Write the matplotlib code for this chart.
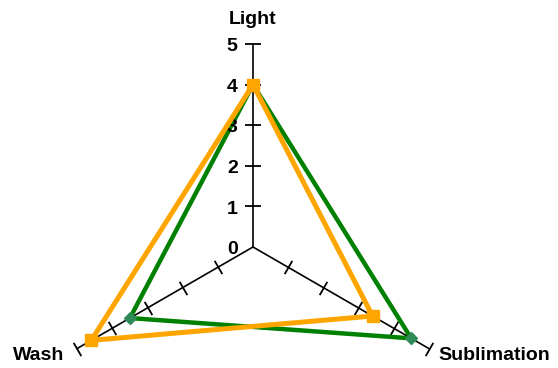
import numpy as np
import matplotlib
matplotlib.use("Agg")
import matplotlib.pyplot as plt

categories = ["Light", "Sublimation", "Wash"]
series_green = [4.0, 4.5, 3.5]
series_orange = [4.0, 3.4, 4.6]
tick_values = [0, 1, 2, 3, 4, 5]
tick_labels = ["0", "1", "2", "3", "4", "5"]

plt.rcParams['font.family'] = ['Liberation Sans', 'DejaVu Sans']

W, H = 558, 368
fig = plt.figure(figsize=(W / 100, H / 100), dpi=100)
cx, cy, R = 253, 247, 203
ax = fig.add_axes([(cx - R) / W, (H - cy - R) / H, 2 * R / W, 2 * R / H], projection='polar')
ax.set_theta_zero_location('N')
ax.set_theta_direction(-1)
ax.set_ylim(0, 5)
ax.grid(False)
ax.set_xticks([])
ax.set_yticks([])
ax.spines['polar'].set_visible(False)
ax.patch.set_visible(False)

n = len(categories)
angles = np.arange(n) * 2 * np.pi / n
rots = [90, -30, 30]

# axes lines and ticks
for a, rot in zip(angles, rots):
    ax.plot([a, a], [0, 5], color='black', lw=1.2, clip_on=False, zorder=1)
    ax.plot([a] * len(tick_values[1:]), tick_values[1:], linestyle='none',
            marker=(2, 0, rot), markersize=11, markeredgewidth=1.3, color='black',
            clip_on=False, zorder=1)

# series
def closed(v):
    return list(angles) + [angles[0]], list(v) + [v[0]]

t, r = closed(series_green)
ax.plot(t, r, color='#008000', lw=3.2, clip_on=False, zorder=3)
ax.plot(angles, series_green, linestyle='none', marker='D', markersize=6,
        color='#2E8B57', clip_on=False, zorder=4)
t, r = closed(series_orange)
ax.plot(t, r, color='#FFA500', lw=3.6, clip_on=False, zorder=5)
ax.plot(angles, series_orange, linestyle='none', marker='s', markersize=8,
        color='#FFA500', clip_on=False, zorder=6)

# tick labels
for v, lab in zip(tick_values, tick_labels):
    ax.annotate(lab, xy=(0, v), xytext=(-11, -2), textcoords='offset points',
                ha='right', va='center', fontsize=14, fontweight='bold',
                annotation_clip=False)

# category labels
fs = 14
ax.annotate(categories[0], xy=(0, 5), xytext=(0, 18), textcoords='offset points',
            ha='center', va='center', fontsize=fs, fontweight='bold', annotation_clip=False)
ax.annotate(categories[1], xy=(angles[1], 5), xytext=(7, -5), textcoords='offset points',
            ha='left', va='center', fontsize=fs, fontweight='bold', annotation_clip=False)
ax.annotate(categories[2], xy=(angles[2], 5), xytext=(-9, -5), textcoords='offset points',
            ha='right', va='center', fontsize=fs, fontweight='bold', annotation_clip=False)

fig.savefig('out.png', dpi=100)
